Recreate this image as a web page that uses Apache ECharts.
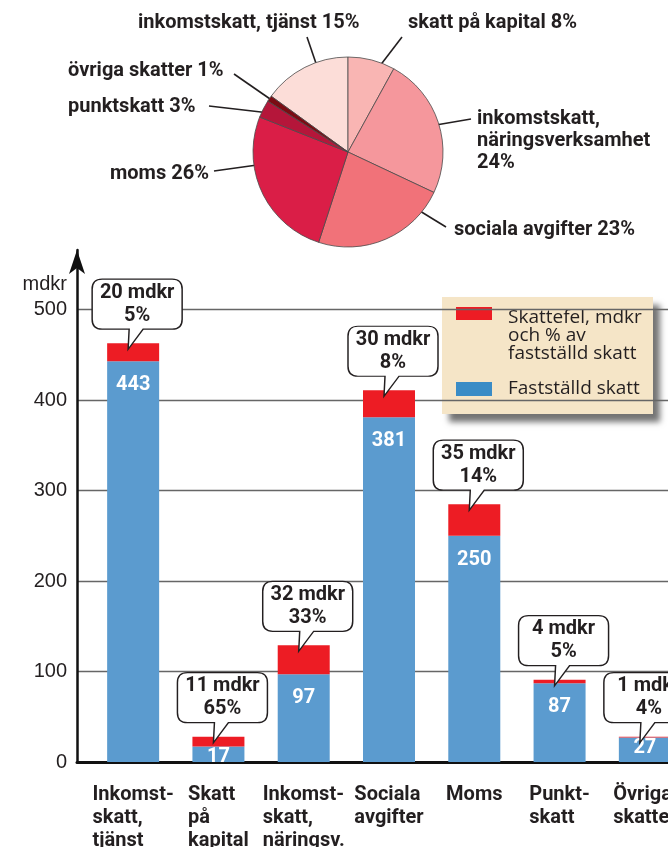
<!DOCTYPE html>
<html>
<head>
<meta charset="utf-8">
<script src="https://cdn.jsdelivr.net/npm/echarts@6/dist/echarts.min.js"></script>
<style>
  html, body { margin: 0; padding: 0; background: #fff; }
  #chart { width: 668px; height: 847px; }
</style>
</head>
<body>
<div id="chart"></div>
<script>
// bar chart data (mdkr)
const categories = ['Inkomst-\nskatt,\ntjänst', 'Skatt\npå\nkapital', 'Inkomst-\nskatt,\nnäringsv.', 'Sociala\navgifter', 'Moms', 'Punkt-\nskatt', 'Övriga\nskatter'];
const faststalld = [443, 17, 97, 381, 250, 87, 27];
const skattefel = [20, 11, 32, 30, 35, 4, 1];
const felProcent = [5, 65, 33, 8, 14, 5, 4];

// pie: share of the tax gap, same order as the bars
const pieNames = ['inkomstskatt, tjänst', 'skatt på kapital', 'inkomstskatt,\nnäringsverksamhet', 'sociala avgifter', 'moms', 'punktskatt', 'övriga skatter'];
const pieShare = [15, 8, 24, 23, 26, 3, 1];

const ink = '#231f20';
const boldFont = 'Roboto';
const totals = faststalld.map((v, i) => v + skattefel[i]);

// pie geometry + where the labels sit
const pieCenter = [348, 152];
const pieR = 95;
const pieColors = ['#fcddd8', '#f9b5b3', '#f5979c', '#f17279', '#da1e47', '#b5163a', '#7b0c14'];
const pieLabelPos = [
  {x: 138, y: 23, from: [307, 37]},
  {x: 408, y: 23, from: [402, 37]},
  {x: 477, y: 141, from: [471, 119]},
  {x: 454, y: 230, from: [446, 227]},
  {x: 110, y: 174, from: [214, 171]},
  {x: 68, y: 107, from: [209, 106]},
  {x: 68, y: 71, from: [234, 74]}
];
const leaderShift = [7, 4, 0, -26, 17, 0, 0];
const leaderReach = [0.87, 0.87, 0.86, 0.85, 0.87, 0.9, 0.95];

function leaderEnd(i) {
  const sum = pieShare.reduce((a, b) => a + b, 0);
  let cum = 0;
  for (let k = 0; k < i; k++) cum += pieShare[k];
  // clockwise degrees from 12 o'clock, first slice ends at 12
  const clock = (cum + pieShare[i] / 2 - pieShare[0]) / sum * 360 + leaderShift[i];
  const a = clock * Math.PI / 180;
  const r = pieR * leaderReach[i];
  return [pieCenter[0] + r * Math.sin(a), pieCenter[1] - r * Math.cos(a)];
}

const bubble = 'path://M10,0 L80,0 Q90,0 90,10 L90,40 Q90,50 80,50 L51,50 L36,70 L37,50 L10,50 Q0,50 0,40 L0,10 Q0,0 10,0 Z';

var chartDom = document.getElementById('chart');
var myChart = echarts.init(chartDom);

var option = {
  animation: false,
  backgroundColor: '#fff',
  grid: [
    {left: 77, right: 0, top: 250, bottom: 85, outerBoundsMode: 'none'},     // axis frame
    {left: 90.5, width: 597, top: 250, bottom: 85, outerBoundsMode: 'none'}  // bars, runs past the right edge
  ],
  xAxis: [
    {gridIndex: 0, type: 'value', min: 0, max: 1,
      axisLine: {show: true, lineStyle: {color: '#111', width: 3}},
      axisTick: {show: false}, axisLabel: {show: false}, splitLine: {show: false}},
    {gridIndex: 1, type: 'category', data: categories,
      axisLine: {show: false}, axisTick: {show: false},
      axisLabel: {
        interval: 0, margin: 21, align: 'center', verticalAlign: 'top',
        formatter: v => v.split('\n').map(s => '{l|' + s + '}').join('\n'),
        rich: {l: {align: 'left', fontFamily: boldFont, fontWeight: 'bold', fontSize: 20, lineHeight: 23, color: ink}}
      }}
  ],
  yAxis: [
    {gridIndex: 0, type: 'value', min: 0, max: 566, interval: 100,
      name: 'mdkr', nameLocation: 'end', nameGap: -34,
      nameTextStyle: {align: 'right', verticalAlign: 'middle', padding: [0, 10, 0, 0], fontFamily: 'Liberation Sans', fontSize: 20, color: ink},
      axisLine: {show: true, symbol: ['none', 'arrow'], symbolSize: [12, 24], lineStyle: {color: '#111', width: 2.5}},
      axisTick: {show: false},
      axisLabel: {margin: 10, showMaxLabel: false, fontFamily: 'Liberation Sans', fontSize: 20, color: ink,
        formatter: v => (v > 500 ? '' : v)},
      splitLine: {show: true, showMaxLine: false, lineStyle: {color: '#666', width: 1.3}}},
    {gridIndex: 1, type: 'value', min: 0, max: 566, show: false}
  ],
  series: [
    {
      name: 'Fastställd skatt', type: 'bar', stack: 'skatt', xAxisIndex: 1, yAxisIndex: 1,
      barWidth: 52,
      // short bars keep their number tight under the top
      data: faststalld.map(v => (v < 40 ? {value: v, label: {distance: 0}} : v)),
      itemStyle: {color: '#5b9bcf'},
      label: {show: true, position: 'insideTop', distance: 14, color: '#fff',
        fontFamily: boldFont, fontWeight: 'bold', fontSize: 20}
    },
    {
      name: 'Skattefel', type: 'bar', stack: 'skatt', xAxisIndex: 1, yAxisIndex: 1,
      barWidth: 52, data: skattefel,
      itemStyle: {color: '#ed1c24'},
      markPoint: {
        symbol: bubble, symbolSize: [90, 70], symbolOffset: [4, -29],
        itemStyle: {color: '#fff', borderColor: ink, borderWidth: 1.3},
        label: {show: true, position: 'inside', offset: [0, -10], color: ink,
          fontFamily: boldFont, fontWeight: 'bold', fontSize: 20, lineHeight: 23,
          formatter: p => p.value + ' mdkr\n' + p.name},
        data: skattefel.map((v, i) => ({coord: [i, totals[i]], value: v, name: felProcent[i] + '%'}))
      }
    },
    {
      type: 'pie', center: pieCenter, radius: pieR,
      startAngle: 90 + pieShare[0] * 3.6, clockwise: true, avoidLabelOverlap: false,
      data: pieShare.map((v, i) => ({value: v, name: pieNames[i], itemStyle: {color: pieColors[i]}})),
      itemStyle: {borderColor: '#4a4a4a', borderWidth: 0.8},
      label: {show: true, position: 'outside', color: ink, fontFamily: boldFont, fontWeight: 'bold',
        fontSize: 20, lineHeight: 22,
        formatter: p => p.name + (p.name.indexOf('\n') >= 0 ? '\n' : ' ') + pieShare[p.dataIndex] + '%'},
      labelLine: {show: true, smooth: false, lineStyle: {color: ink, width: 1.6}},
      labelLayout: function (params) {
        const pos = pieLabelPos[params.dataIndex];
        return {x: pos.x, y: pos.y, align: 'left', verticalAlign: 'middle',
          labelLinePoints: [pos.from, leaderEnd(params.dataIndex)]};
      }
    }
  ],
  // legend box
  graphic: [{
    type: 'group', left: 442, top: 297,
    children: [
      {type: 'rect', shape: {x: 0, y: 0, width: 211, height: 117},
        style: {fill: '#f5e5c7', shadowBlur: 6, shadowOffsetX: 7, shadowOffsetY: 8, shadowColor: 'rgba(0,0,0,0.55)'}},
      {type: 'rect', shape: {x: 14, y: 10, width: 36, height: 13}, style: {fill: '#ed1c24'}},
      {type: 'text', x: 66, y: 12, style: {text: 'Skattefel, mdkr\noch % av\nfastställd skatt',
        font: '19px "Open Sans"', lineHeight: 18, verticalAlign: 'top', fill: ink}},
      {type: 'rect', shape: {x: 14, y: 85, width: 36, height: 14}, style: {fill: '#3a8cc6'}},
      {type: 'text', x: 66, y: 92, style: {text: 'Fastställd skatt',
        font: '19px "Open Sans"', verticalAlign: 'middle', fill: ink}}
    ]
  }]
};

option && myChart.setOption(option);
</script>
</body>
</html>
